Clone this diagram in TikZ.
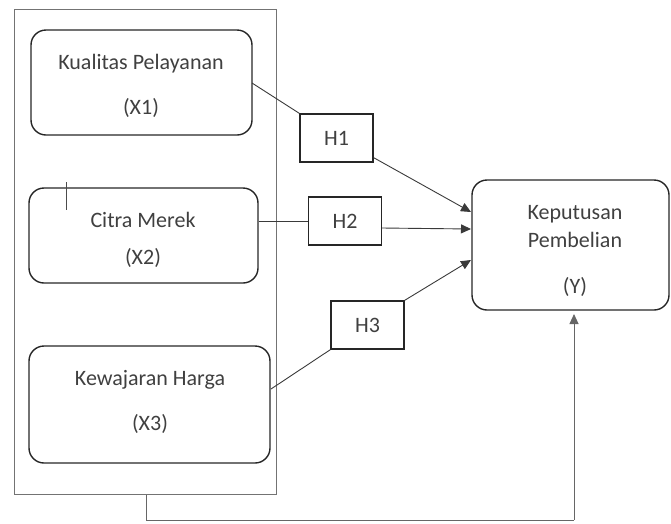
\documentclass[tikz,border=0pt]{standalone}
\usepackage{fontspec}
\setmainfont{Carlito}
\usetikzlibrary{arrows.meta,calc}
\definecolor{txt}{HTML}{404040}
\definecolor{ln}{HTML}{3A3A3A}
\begin{document}
\begin{tikzpicture}[x=1pt,y=-1pt,
  varbox/.style={draw=black!85,line width=1.4pt,rounded corners=15pt,inner sep=0pt},
  hbox/.style={draw=black!85,line width=1.3pt,inner sep=0pt,minimum width=73pt,minimum height=48pt,font=\fontsize{22}{25}\selectfont,text=txt},
  lbl/.style={anchor=base,inner sep=0pt,font=\fontsize{22}{25}\selectfont,text=txt},
  conn/.style={draw=ln,line width=0.9pt},
  arr/.style={conn,-{Triangle[length=10pt,width=9pt]}}]
\useasboundingbox (0,0) rectangle (671,523);
% outer group
\node (grp) [draw=black!55,line width=1pt,inner sep=0pt,minimum width=262pt,minimum height=485pt] at (145,251.5) {};
% variable boxes
\node (x1) [varbox,minimum width=221pt,minimum height=105pt] at (141.5,82.5) {};
\node (x2) [varbox,minimum width=229pt,minimum height=95pt] at (143.5,235.5) {};
\node (x3) [varbox,minimum width=241pt,minimum height=117pt] at (149.5,404.5) {};
\node (y) [varbox,minimum width=197pt,minimum height=130pt] at (570.5,245) {};
% labels
\node (x1a) [lbl] at (141,69) {Kualitas Pelayanan};
\node (x1b) [lbl] at (141,114) {(X1)};
\node (x2a) [lbl] at (143,227) {Citra Merek};
\node (x2b) [lbl] at (143,264) {(X2)};
\node (x3a) [lbl] at (150,385) {Kewajaran Harga};
\node (x3b) [lbl] at (150,430) {(X3)};
\node (ya) [lbl] at (575,219) {Keputusan};
\node (yb) [lbl] at (575,247) {Pembelian};
\node (yc) [lbl] at (575,293) {(Y)};
% cursor mark
\coordinate (cur1) at (66,182);
\coordinate (cur2) at (66,210);
\draw[black!70,line width=0.9pt] (cur1) -- (cur2);
% hypothesis boxes
\node (h1) [hbox] at (336.5,138) {H1};
\node (h2) [hbox] at (345,221) {H2};
\node (h3) [hbox] at (367.5,325) {H3};
% connectors
\coordinate (x1o) at (252,83);
\coordinate (x3o) at (271,389);
\coordinate (y1) at (471,212);
\coordinate (y2) at (471,229);
\coordinate (y3) at (471,260);
\draw[conn] (x1o) -- (h1.north west);
\draw[arr] (h1.south east) ++(0,-5) -- (y1);
\draw[conn] (x2.east |- h2.west) -- (h2.west);
\draw[arr] (h2.east) ++(0,7) -- (y2);
\draw[conn] (x3o) -- (h3.south west);
\draw[arr] (h3.north east) -- (y3);
% feedback line
\coordinate (fb1) at (146,520);
\coordinate (fb2) at (574,520);
\coordinate (fbt) at (574,314);
\draw[conn,draw=black!60] (grp.south -| fb1) -- (fb1) -- (fb2);
\draw[arr,draw=black!60] (fb2) -- (fbt);
\end{tikzpicture}
\end{document}
